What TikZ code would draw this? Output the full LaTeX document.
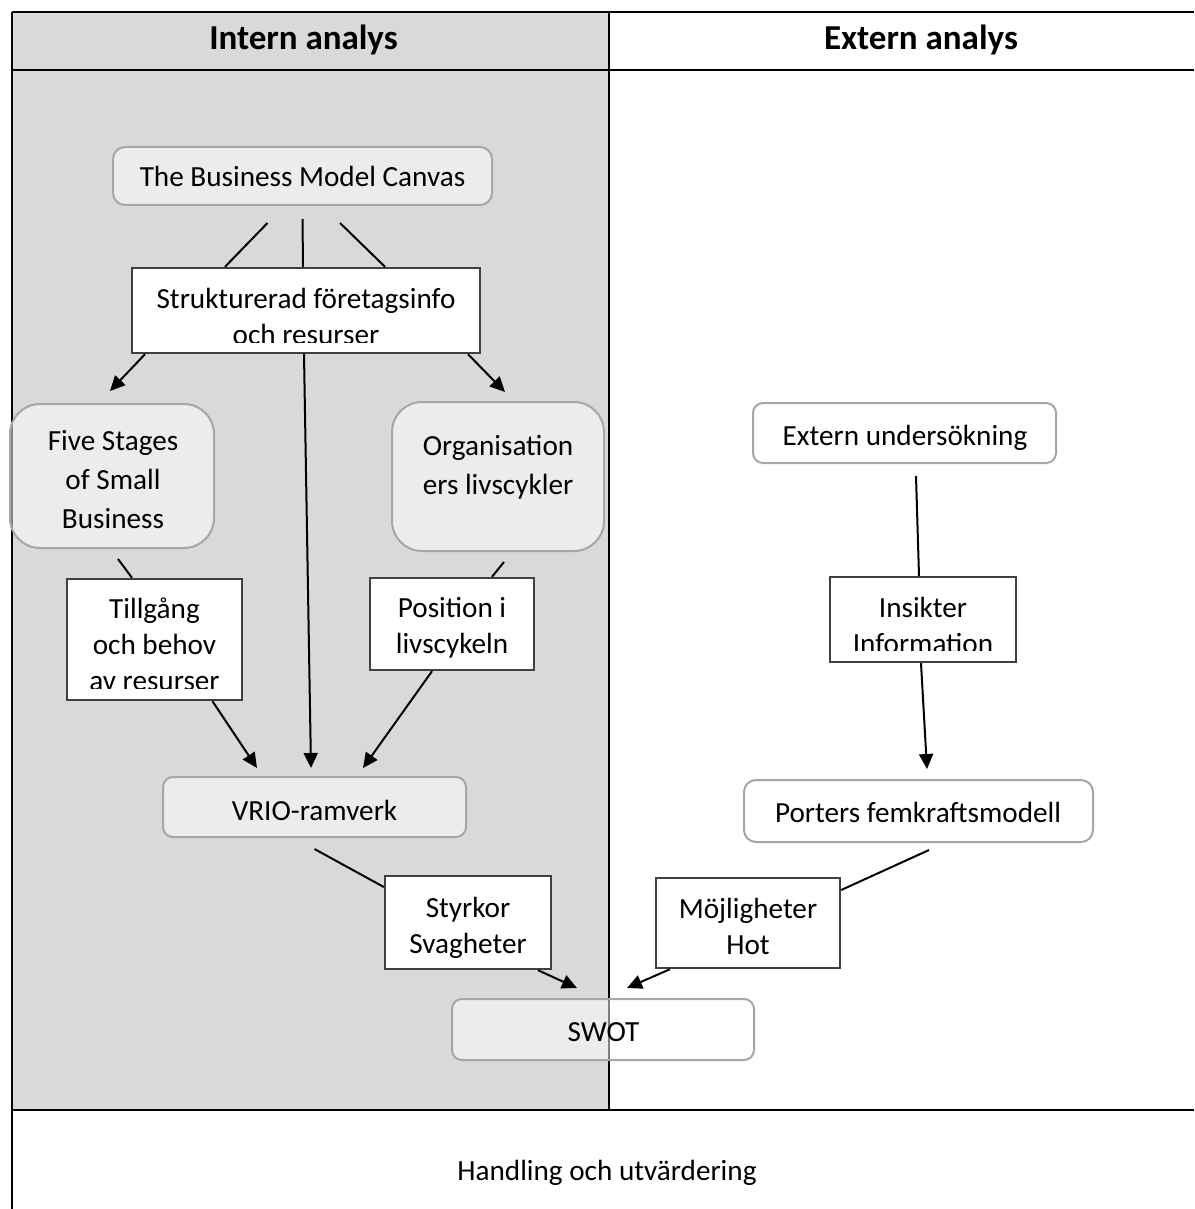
\documentclass[tikz,border=0pt]{standalone}
\usepackage{fontspec}
\setmainfont{Carlito}
\usetikzlibrary{arrows.meta}
\definecolor{bg}{HTML}{D9D9D9}
\definecolor{rbd}{HTML}{A6A6A6}
\definecolor{bxd}{HTML}{404040}
\newcommand\fa{\fontsize{14.6}{19.5}\selectfont}
\newcommand\fb{\fontsize{14.6}{18}\selectfont}
\newcommand\fh{\fontsize{17.5}{21}\selectfont\bfseries}
\begin{document}
\begin{tikzpicture}[x=0.5pt,y=-0.5pt,
  rnd/.style={draw=rbd, line width=1pt, fill=white, fill opacity=0.5, text opacity=1, inner sep=0pt},
  rbox/.style={draw=bxd, line width=1.2pt, fill=white, inner sep=0pt},
  txt/.style={inner sep=0pt, align=center, font=\fa, anchor=base},
  txtm/.style={inner sep=0pt, align=center, font=\fa, anchor=north},
  txtb/.style={inner sep=0pt, align=center, font=\fb, anchor=north},
  conn/.style={line width=1pt},
  arr/.style={line width=1pt, -{Triangle[length=7.5pt,width=7pt]}},
  frame/.style={line width=1.2pt}]
\useasboundingbox (0,0) rectangle (1194,1209);
% background and table
\fill[bg] (12,12) rectangle (609,1110);
\draw[frame] (12,12) -- (1194,12);
\draw[frame] (12,70) -- (1194,70);
\draw[frame] (12,1110) -- (1194,1110);
\draw[frame] (12,12) -- (12,1209);
\draw[line width=0.85pt] (609,12) -- (609,1110);
\node[font=\fh, anchor=base, inner sep=0pt] (hint) at (303.5,50) {Intern analys};
\node[font=\fh, anchor=base, inner sep=0pt] (hext) at (921,50) {Extern analys};
\node[txt] (hand) at (607,1180) {Handling och utvärdering};

% rounded nodes
\node[rnd, rounded corners=6pt, minimum width=189.5pt, minimum height=29pt] (bmc) at (302.5,176) {};
\node[rnd, rounded corners=15pt, minimum width=102pt, minimum height=72pt] (five) at (112,476) {};
\node[rnd, rounded corners=15pt, minimum width=106pt, minimum height=74.5pt] (org) at (498,476.5) {};
\node[rnd, rounded corners=5pt, minimum width=151.5pt, minimum height=30pt] (vrio) at (314.5,807) {};
\node[rnd, rounded corners=5pt, minimum width=151.5pt, minimum height=30pt] (ext) at (904.5,433) {};
\node[rnd, rounded corners=6pt, minimum width=174.5pt, minimum height=31pt] (port) at (918.5,811) {};

% rectangular boxes
\node[rbox, minimum width=174pt, minimum height=42.5pt] (struk) at (306,310.5) {};
\node[rbox, minimum width=87.5pt, minimum height=60.5pt] (till) at (154.5,639.5) {};
\node[rbox, minimum width=82pt, minimum height=46pt] (pos) at (452,624) {};
\node[rbox, minimum width=83pt, minimum height=46.5pt] (styr) at (468,922.5) {};
\node[rbox, minimum width=93pt, minimum height=42.5pt] (ins) at (923,619.5) {};
\node[rbox, minimum width=92pt, minimum height=45pt] (moj) at (748,923) {};

% connectors
\draw[conn] ([shift={(-35,17)}]bmc.south) -- ([shift={(-81,0)}]struk.north);
\draw[conn] ([shift={(0,13)}]bmc.south) -- ([shift={(-3,0)}]struk.north);
\draw[conn] ([shift={(37.5,17)}]bmc.south) -- ([shift={(79,0)}]struk.north);
\draw[arr] ([shift={(-161,0)}]struk.south) -- ([shift={(-2,-12)}]five.north);
\draw[arr] ([shift={(-2,0)}]struk.south) -- ([shift={(-3.5,-8)}]vrio.north);
\draw[arr] ([shift={(162,0)}]struk.south) -- ([shift={(7,-9)}]org.north);
\draw[conn] ([shift={(6,10)}]five.south) -- ([shift={(-22.5,0)}]till.north);
\draw[conn] ([shift={(6,10)}]org.south) -- ([shift={(40,0)}]pos.north);
\draw[arr] ([shift={(58,0)}]till.south) -- ([shift={(-57.5,-8)}]vrio.north);
\draw[arr] ([shift={(-20,0)}]pos.south) -- ([shift={(48.5,-8)}]vrio.north);
\draw[conn] ([shift={(0,11)}]vrio.south) -- ([shift={(0,-35.5)}]styr.west);
\draw[conn] ([shift={(11.5,12)}]ext.south) -- ([shift={(-4,0)}]ins.north);
\draw[arr] ([shift={(-2,0)}]ins.south) -- ([shift={(8.5,-10)}]port.north);
\draw[conn] ([shift={(10.5,7)}]port.south) -- ([shift={(0,-33)}]moj.east);

% SWOT node over the divider
\node[rnd, rounded corners=5pt, minimum width=151pt, minimum height=30.5pt] (swot) at (603,1029.5) {};
\draw[arr] ([shift={(70,0)}]styr.south) -- ([shift={(-26,-10)}]swot.north);
\draw[arr] ([shift={(-78,0)}]moj.south) -- ([shift={(24,-10)}]swot.north);

% texts
\node[txt] (bmc-t) at (302.5,187) {The Business Model Canvas};
\node[txtm] (five-t) at (113,422.7) {\strut Five Stages\\\strut of Small\\\strut Business};
\node[txtm] (org-t) at (498,427.7) {\strut Organisation\\\strut ers livscykler};
\node[txt] (vrio-t) at (314.5,820) {VRIO-ramverk};
\node[txt] (swot-t) at (603.5,1041) {SWOT};
\node[txt] (ext-t) at (905,445) {Extern undersökning};
\node[txt] (port-t) at (918,822) {Porters femkraftsmodell};

\begin{scope}
\clip (struk.north west) rectangle ([shift={(0,-12)}]struk.south east);
\node[txtb] (struk-t) at (306,282.8) {\strut Strukturerad företagsinfo\\\strut och resurser};
\end{scope}
\begin{scope}
\clip (till.north west) rectangle ([shift={(0,-13)}]till.south east);
\node[txtb] (till-t) at (154.5,592.8) {\strut Tillgång\\\strut och behov\\\strut av resurser};
\end{scope}
\node[txtb] (pos-t) at (452,591.8) {\strut Position i\\\strut livscykeln};
\node[txtb] (styr-t) at (468,891.8) {\strut Styrkor\\\strut Svagheter};
\begin{scope}
\clip (ins.north west) rectangle ([shift={(0,-13)}]ins.south east);
\node[txtb] (ins-t) at (923,591.8) {\strut Insikter\\\strut Information};
\end{scope}
\node[txtb] (moj-t) at (748,892.8) {\strut Möjligheter\\\strut Hot};
\end{tikzpicture}
\end{document}
